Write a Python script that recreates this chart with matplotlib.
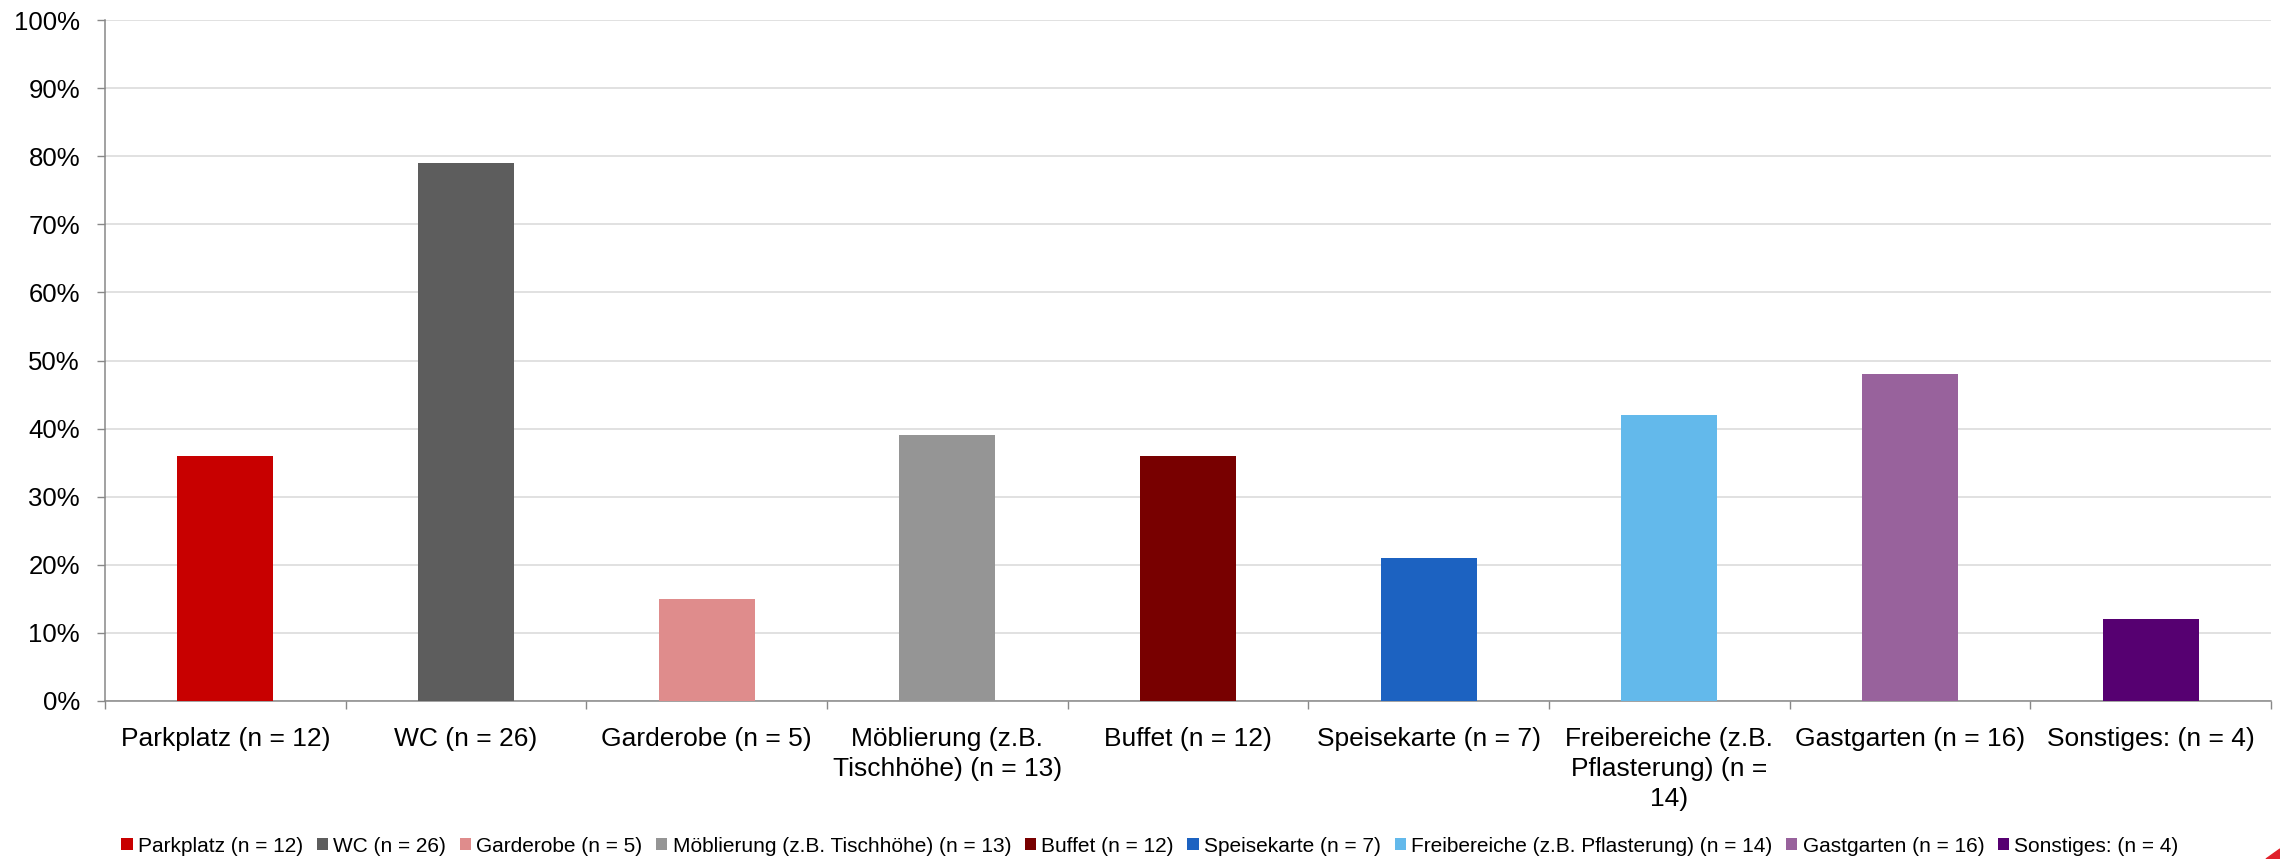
import matplotlib
matplotlib.use("Agg")
import matplotlib.pyplot as plt
import numpy as np
from matplotlib.ticker import MultipleLocator, PercentFormatter
from matplotlib.patches import Polygon

plt.rcParams['font.family'] = ['Liberation Sans', 'DejaVu Sans']

# Data
categories = ["Parkplatz (n = 12)", "WC (n = 26)", "Garderobe (n = 5)",
              "Möblierung (z.B. Tischhöhe) (n = 13)", "Buffet (n = 12)",
              "Speisekarte (n = 7)", "Freibereiche (z.B. Pflasterung) (n = 14)",
              "Gastgarten (n = 16)", "Sonstiges: (n = 4)"]
tick_labels = ["Parkplatz (n = 12)", "WC (n = 26)", "Garderobe (n = 5)",
               "Möblierung (z.B.\nTischhöhe) (n = 13)", "Buffet (n = 12)",
               "Speisekarte (n = 7)", "Freibereiche (z.B.\nPflasterung) (n =\n14)",
               "Gastgarten (n = 16)", "Sonstiges: (n = 4)"]
values = [36, 79, 15, 39, 36, 21, 42, 48, 12]
colors = ["#C80000", "#5D5D5D", "#DF8C8C", "#959595", "#780000",
          "#1C62C1", "#63B9EB", "#98629C", "#560071"]

fig = plt.figure(figsize=(22.8, 8.59), dpi=100)
ax = fig.add_axes([105 / 2280, 1 - 701 / 859, (2271 - 105) / 2280, (701 - 20) / 859])

x = np.arange(len(values))
handles = []
for i in range(len(values)):
    b = ax.bar(x[i], values[i], width=0.4, color=colors[i], label=categories[i], zorder=3)
    handles.append(b)

ax.set_xlim(-0.5, len(values) - 0.5)
ax.set_ylim(0, 100)
ax.yaxis.set_major_locator(MultipleLocator(10))
ax.yaxis.set_major_formatter(PercentFormatter(decimals=0))
ax.grid(axis='y', color='#D9D9D9', linewidth=1.1, zorder=0)

ax.set_xticks(x)
ax.set_xticklabels(tick_labels, fontsize=19, linespacing=1.3)
ax.set_xticks(np.arange(-0.5, len(values)), minor=True)
ax.tick_params(axis='x', which='major', length=0, pad=19)
ax.tick_params(axis='x', which='minor', length=6, width=1, color='#888888', direction='out')
ax.tick_params(axis='y', labelsize=18.5, length=6, width=1, color='#888888', pad=12)

for s in ['top', 'right']:
    ax.spines[s].set_visible(False)
for s in ['left', 'bottom']:
    ax.spines[s].set_color('#888888')
    ax.spines[s].set_linewidth(1.1)

fig.legend(handles=handles, loc='center', bbox_to_anchor=(1150 / 2280, 1 - 846 / 859),
           ncol=9, frameon=False, fontsize=15, handlelength=0.55, handleheight=0.55,
           handletextpad=0.25, columnspacing=0.65, borderaxespad=0)

# small red corner mark
fig.patches.append(Polygon([[1.0, 0.0], [1.0, 10 / 859], [1 - 14 / 2280, 0.0]],
                           closed=True, transform=fig.transFigure, color='#E0202A'))

fig.savefig("out.png", dpi=100)
